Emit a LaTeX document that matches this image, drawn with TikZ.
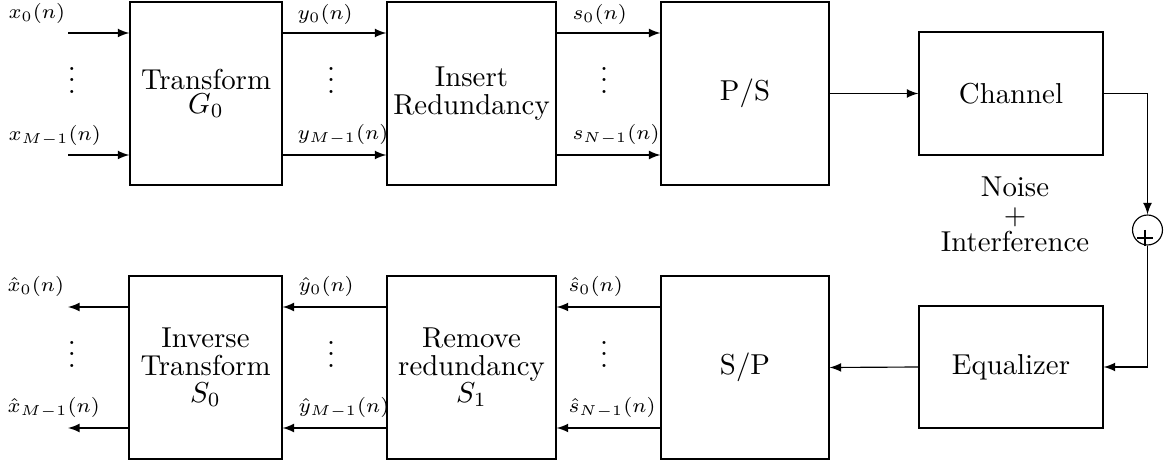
\documentclass[tikz,border=0pt]{standalone}
\begin{document}
\begin{tikzpicture}[x=0.3472pt,y=-0.3472pt,>=latex,
  box/.style={draw, inner sep=0pt, align=center, font=\fontsize{10pt}{9.5pt}\selectfont},
  lbl/.style={anchor=base west, inner sep=0pt, font=\scriptsize},
  dts/.style={anchor=base, inner sep=0pt}]
\useasboundingbox (0,0) rectangle (1176,463);
% top row
\node[box, minimum width=52.8pt, minimum height=63.5pt] (T) at (206,93.5) {Transform\\[-1.5pt]$G_0$};
\node[box, minimum width=58.7pt, minimum height=63.5pt] (I) at (471.5,93.5) {Insert\\Redundancy};
\node[box, minimum width=58.3pt, minimum height=63.5pt] (PS) at (745,93.5) {P/S};
\node[box, minimum width=63.9pt, minimum height=42.7pt] (Ch) at (1011,93.5) {Channel};
% bottom row
\node[box, minimum width=53.1pt, minimum height=63.5pt] (Inv) at (205.5,367.5) {Inverse\\Transform\\$S_0$};
\node[box, minimum width=58.7pt, minimum height=63.5pt] (Rem) at (471.5,367.5) {Remove\\redundancy\\$S_1$};
\node[box, minimum width=58.3pt, minimum height=63.5pt] (SP) at (745,367.5) {S/P};
\node[box, minimum width=63.9pt, minimum height=42.4pt] (Eq) at (1011,367) {Equalizer};
% noise text
\node[align=center, inner sep=0pt, font=\fontsize{10pt}{9.5pt}\selectfont] (noise) at (1015,214.5) {Noise\\$+$\\Interference};
% adder
\node[draw, circle, minimum size=10.4pt, inner sep=0pt] (add) at (1147.5,230) {};
\draw ([xshift=-3.65pt]add.center) ++(0,8) -- ++(16,0);
\draw ([xshift=-0.87pt]add.center) -- ++(0,16);
% coordinates
\coordinate (xi0) at (68,33);
\coordinate (xi1) at (68,155);
\coordinate (xo0) at (68,307);
\coordinate (xo1) at (68,428);
% top arrows
\draw[->] (xi0) -- (xi0 -| T.west);
\draw[->] (xi1) -- (xi1 -| T.west);
\draw[->] (xi0 -| T.east) -- (xi0 -| I.west);
\draw[->] (xi1 -| T.east) -- (xi1 -| I.west);
\draw[->] (xi0 -| I.east) -- (xi0 -| PS.west);
\draw[->] (xi1 -| I.east) -- (xi1 -| PS.west);
\draw[->] (PS.east) -- (Ch.west);
\draw[->] (Ch.east) -| (add.north);
\draw[->] (add.south) |- (Eq.east);
\draw[->] (Eq.west) -- (SP.east);
% bottom arrows
\draw[->] (xo0 -| SP.west) -- (xo0 -| Rem.east);
\draw[->] (xo1 -| SP.west) -- (xo1 -| Rem.east);
\draw[->] (xo0 -| Rem.west) -- (xo0 -| Inv.east);
\draw[->] (xo1 -| Rem.west) -- (xo1 -| Inv.east);
\draw[->] (xo0 -| Inv.west) -- (xo0);
\draw[->] (xo1 -| Inv.west) -- (xo1);
% dots
\node[dts] (d1) at (72,93.5) {$\vdots$};
\node[dts] (d2) at (331,93.5) {$\vdots$};
\node[dts] (d3) at (604,93.5) {$\vdots$};
\node[dts] (d4) at (72,367.5) {$\vdots$};
\node[dts] (d5) at (331,367.5) {$\vdots$};
\node[dts] (d6) at (604,367.5) {$\vdots$};
% labels
\node[lbl] (l1) at (8,19) {$x_0(n)$};
\node[lbl] (l2) at (8,141) {$x_{M-1}(n)$};
\node[lbl] (l3) at (297,20) {$y_0(n)$};
\node[lbl] (l4) at (297,140) {$y_{M-1}(n)$};
\node[lbl] (l5) at (572,20) {$s_0(n)$};
\node[lbl] (l6) at (572,140) {$s_{N-1}(n)$};
\node[lbl] (l7) at (7,292) {$\hat{x}_0(n)$};
\node[lbl] (l8) at (7,413) {$\hat{x}_{M-1}(n)$};
\node[lbl] (l9) at (298,292) {$\hat{y}_0(n)$};
\node[lbl] (l10) at (298,413) {$\hat{y}_{M-1}(n)$};
\node[lbl] (l11) at (568,292) {$\hat{s}_0(n)$};
\node[lbl] (l12) at (568,413) {$\hat{s}_{N-1}(n)$};
\end{tikzpicture}
\end{document}
